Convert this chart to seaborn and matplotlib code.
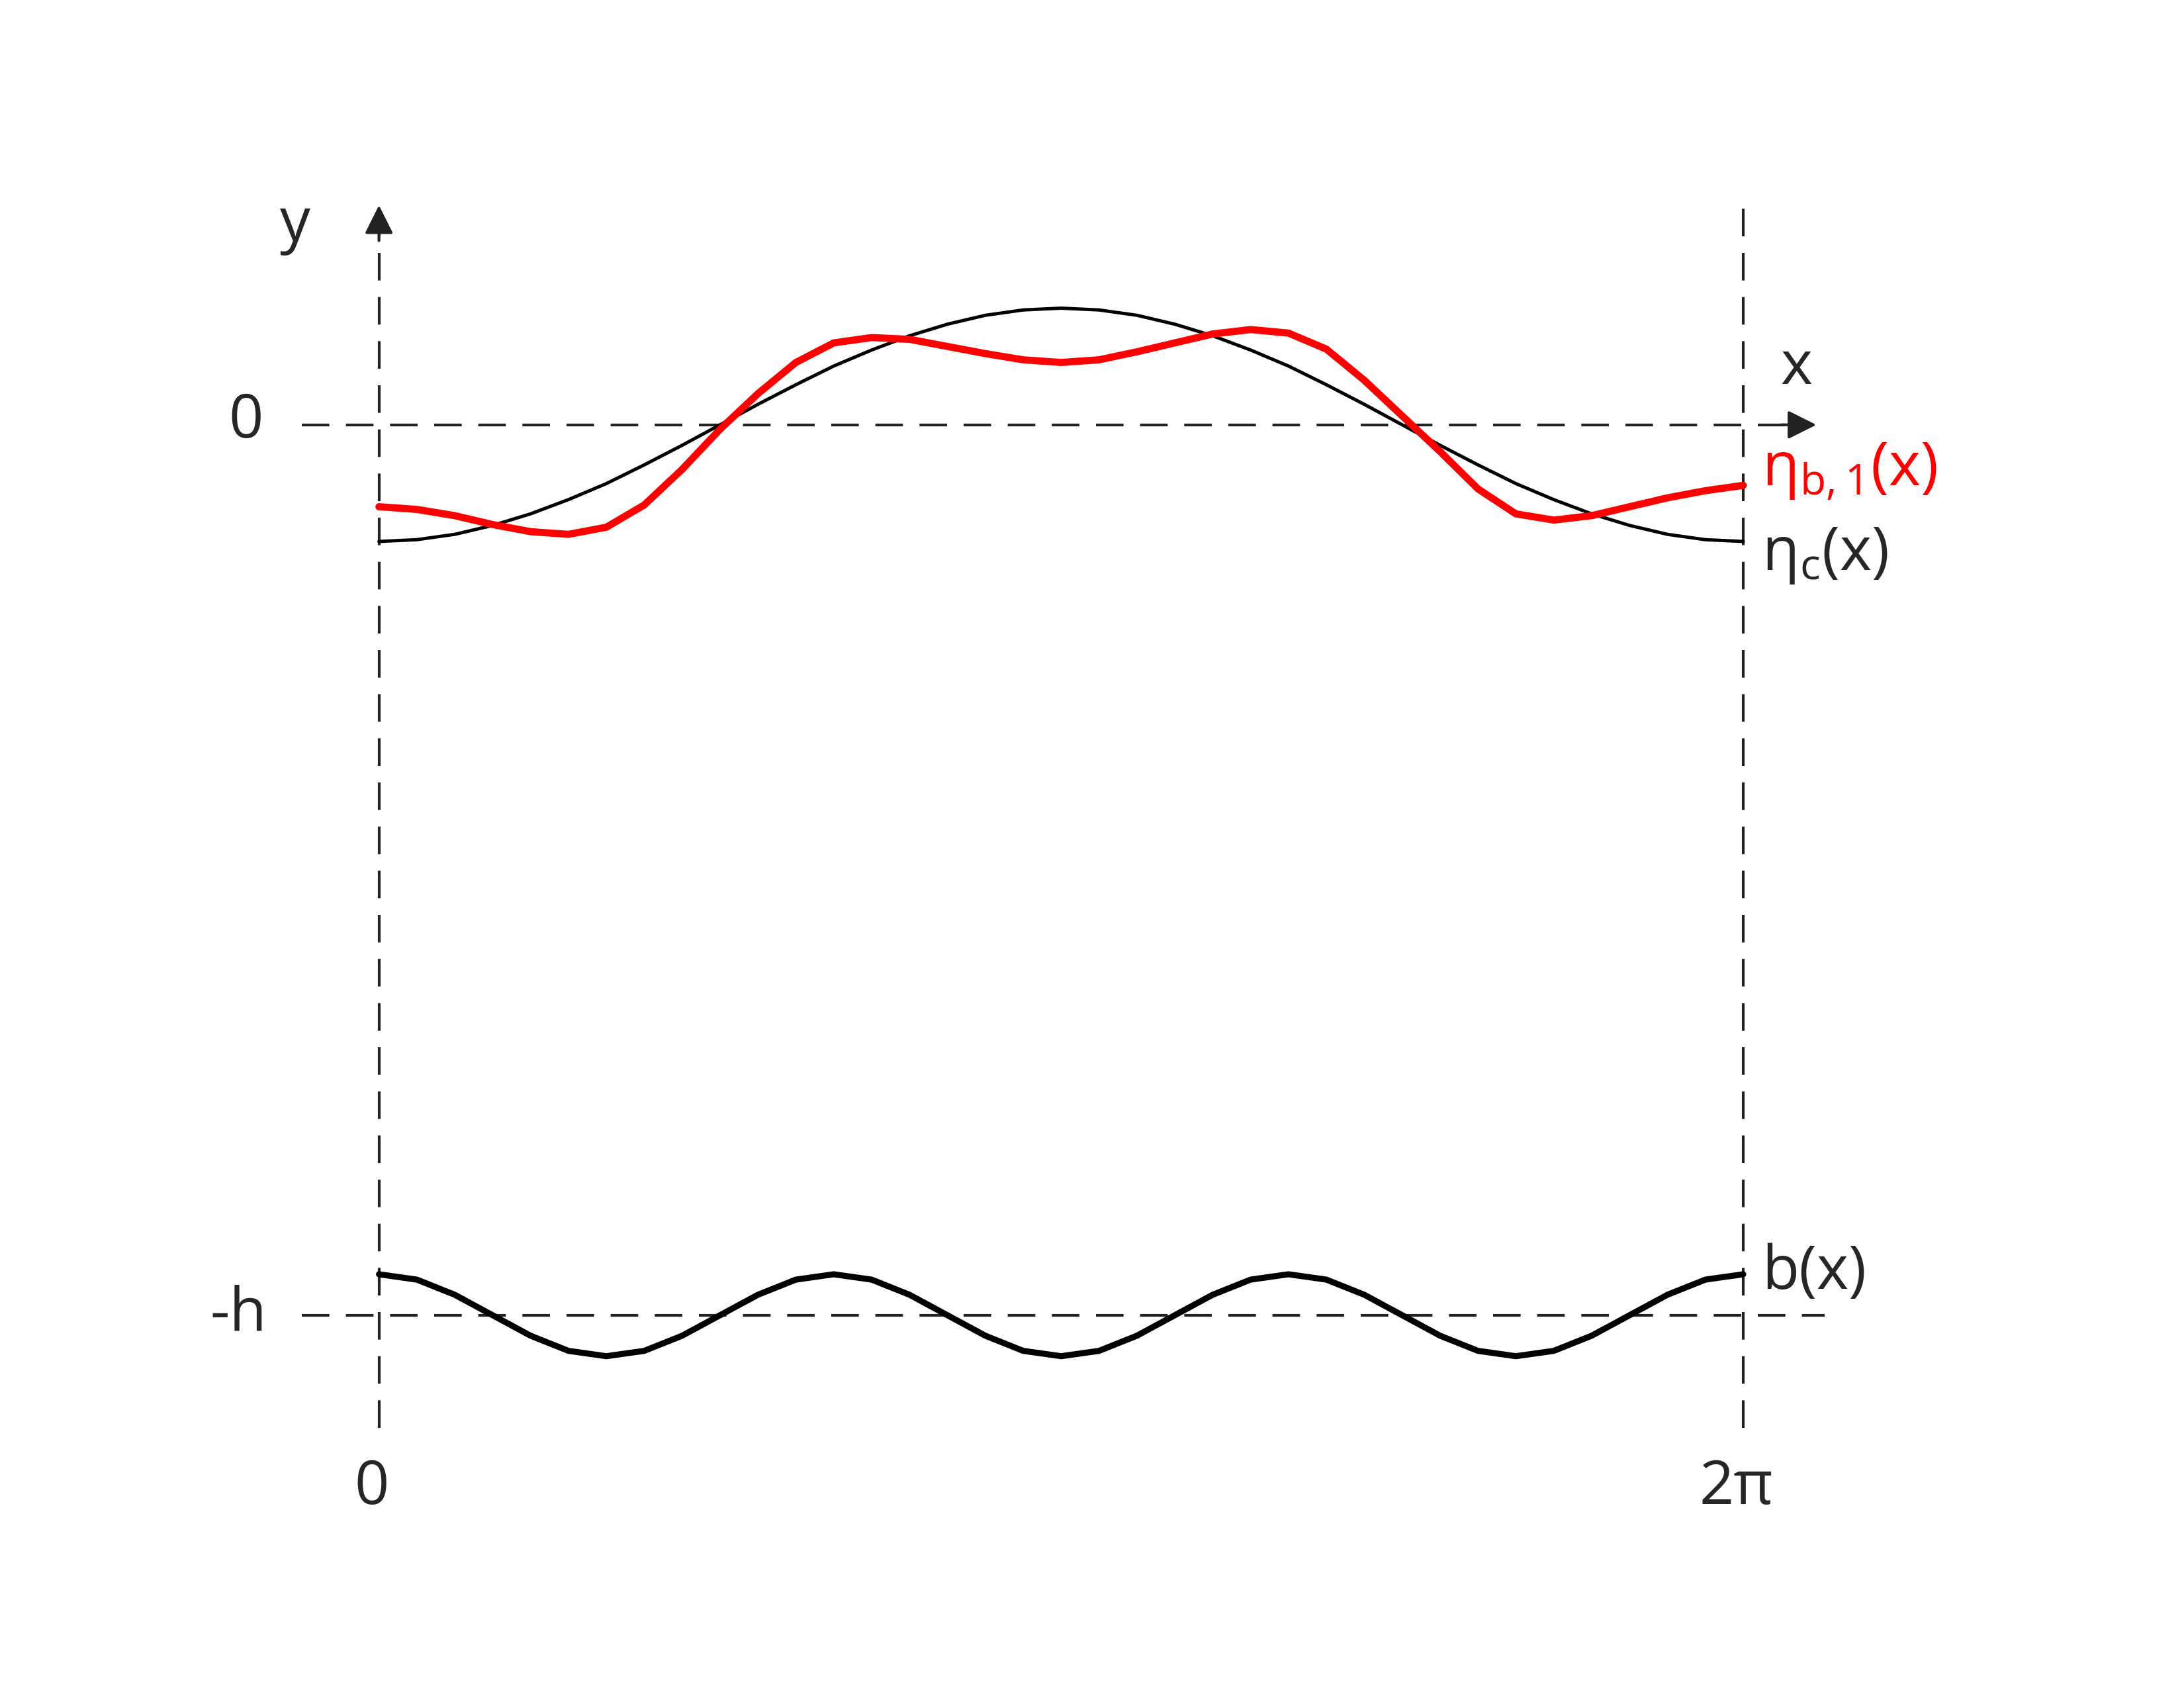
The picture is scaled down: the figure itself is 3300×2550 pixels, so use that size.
import numpy as np
import pandas as pd
import matplotlib.pyplot as plt
import seaborn as sns

# sample positions, degrees 0..360 step 10
x_deg = list(range(0, 361, 10))

eta_c = [-0.131, -0.129, -0.123, -0.113, -0.100, -0.084, -0.066, -0.045, -0.023, 0.0,
         0.023, 0.045, 0.066, 0.084, 0.100, 0.113, 0.123, 0.129, 0.131,
         0.129, 0.123, 0.113, 0.100, 0.084, 0.066, 0.045, 0.023, 0.0,
         -0.023, -0.045, -0.066, -0.084, -0.100, -0.113, -0.123, -0.129, -0.131]

eta_b1 = [-0.092, -0.095, -0.102, -0.112, -0.120, -0.123, -0.115, -0.090, -0.050, -0.005,
          0.035, 0.070, 0.092, 0.098, 0.096, 0.088, 0.080, 0.073, 0.070,
          0.073, 0.082, 0.092, 0.102, 0.107, 0.103, 0.085, 0.050, 0.010,
          -0.030, -0.072, -0.100, -0.107, -0.102, -0.092, -0.082, -0.074, -0.068]

b_period = [-0.954, -0.960, -0.977, -1.0, -1.023, -1.040, -1.046, -1.040, -1.023, -1.0, -0.977, -0.960]
bottom = b_period * 3 + [-0.954]

df = pd.DataFrame({"x": np.deg2rad(x_deg), "eta_c": eta_c, "eta_b1": eta_b1, "b": bottom})

sns.set_theme(style="white")
plt.rcParams["font.family"] = ["Open Sans", "DejaVu Sans"]
plt.rcParams["mathtext.fontset"] = "custom"
plt.rcParams["mathtext.rm"] = "Open Sans"
fig = plt.figure(figsize=(11, 8.5), dpi=300)
ax = fig.add_axes([0, 0, 1, 1])

W, H = 1556, 1200
x0, x2pi, y0, yh = 270, 1242, 302, 935
sx = 2 * np.pi / (x2pi - x0)
sy = 1.0 / (yh - y0)
px = lambda p: (p - x0) * sx
py = lambda p: (y0 - p) * sy

dash = dict(color="#222222", lw=1.0, ls=(0, (10, 6)))
ax.plot([0, 0], [py(1015), py(150)], **dash)
ax.plot([2 * np.pi, 2 * np.pi], [py(1015), py(145)], **dash)
ax.plot([px(215), px(1285)], [0, 0], **dash)
ax.plot([px(215), px(1300)], [-1, -1], **dash)
ax.annotate("", xy=(0, py(142)), xytext=(0, py(175)),
            arrowprops=dict(arrowstyle="-|>", color="#222222", lw=1, mutation_scale=22))
ax.annotate("", xy=(px(1298), 0), xytext=(px(1265), 0),
            arrowprops=dict(arrowstyle="-|>", color="#222222", lw=1, mutation_scale=22))

sns.lineplot(data=df, x="x", y="eta_c", ax=ax, color="black", lw=1.2,
             solid_joinstyle="round")
sns.lineplot(data=df, x="x", y="eta_b1", ax=ax, color="red", lw=2.6,
             solid_joinstyle="round")
sns.lineplot(data=df, x="x", y="b", ax=ax, color="black", lw=2.2,
             solid_joinstyle="round")
ax.set_xlim(px(0), px(W))
ax.set_ylim(py(H), py(0))
ax.axis("off")

fs = 22
ax.text(px(210), py(160), "y", fontsize=fs, ha="center", va="center")
ax.text(px(1280), py(262), "x", fontsize=fs, ha="center", va="center")
ax.text(px(175), py(300), "0", fontsize=fs, ha="center", va="center")
ax.text(px(170), py(935), "-h", fontsize=fs, ha="center", va="center")
ax.text(px(265), py(1058), "0", fontsize=fs, ha="center", va="center")
ax.text(px(1237), py(1058), "2π", fontsize=fs, ha="center", va="center")
ax.text(px(1255), py(335), r"$\mathregular{\eta_{b,1}(x)}$", fontsize=fs, color="red", ha="left", va="center")
ax.text(px(1255), py(395), r"$\mathregular{\eta_{c}(x)}$", fontsize=fs, ha="left", va="center")
ax.text(px(1255), py(905), "b(x)", fontsize=fs, ha="left", va="center")

fig.savefig("out.png", dpi=300)
